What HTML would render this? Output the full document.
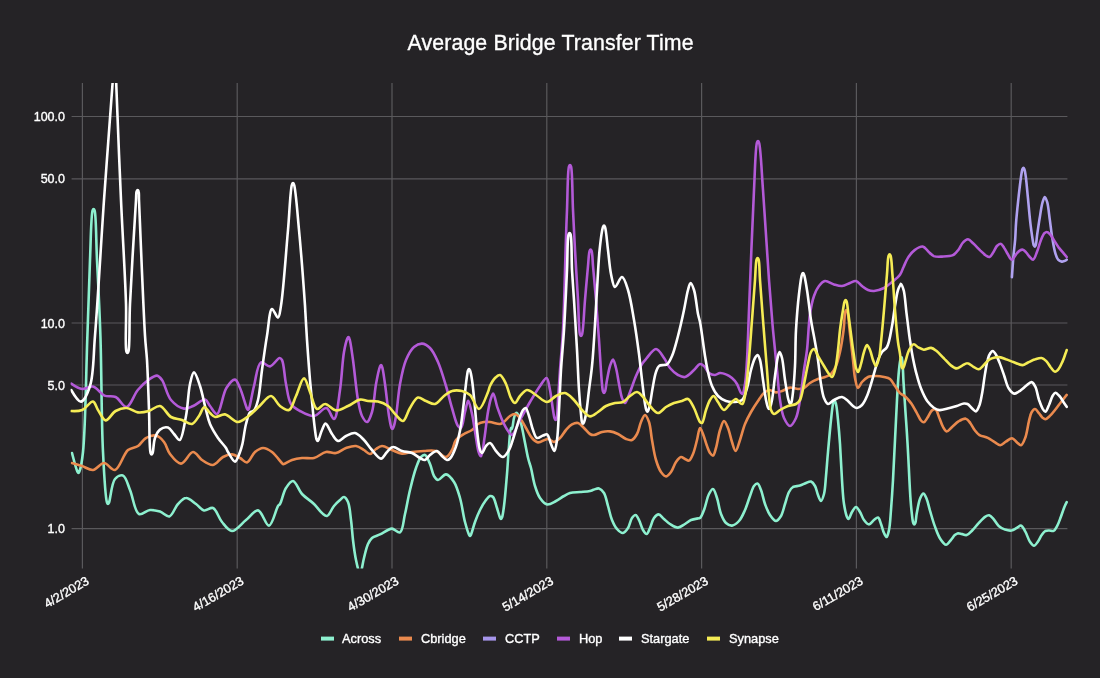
<!DOCTYPE html><html><head><meta charset="utf-8"><title>Average Bridge Transfer Time</title>
<style>html,body{margin:0;padding:0;background:#252326;}body{width:1100px;height:678px;overflow:hidden;font-family:"Liberation Sans",Arial,sans-serif;}svg{display:block}text{font-family:"Liberation Sans",Arial,sans-serif;fill:#fff;stroke:#fff;stroke-width:0.35px}</style></head><body>
<svg width="1100" height="678" viewBox="0 0 1100 678">
<rect width="1100" height="678" fill="#252326"/>
<defs><clipPath id="c"><rect x="70.6" y="83" width="997.8000000000001" height="485.5"/></clipPath></defs>
<g stroke="#5a595c" stroke-width="1.2" fill="none">
<line x1="82.4" y1="83" x2="82.4" y2="568.5"/>
<line x1="237.2" y1="83" x2="237.2" y2="568.5"/>
<line x1="392.0" y1="83" x2="392.0" y2="568.5"/>
<line x1="546.8" y1="83" x2="546.8" y2="568.5"/>
<line x1="701.6" y1="83" x2="701.6" y2="568.5"/>
<line x1="856.4" y1="83" x2="856.4" y2="568.5"/>
<line x1="1011.2" y1="83" x2="1011.2" y2="568.5"/>
<line x1="71.6" y1="116.5" x2="1067.4" y2="116.5"/>
<line x1="71.6" y1="178.8" x2="1067.4" y2="178.8"/>
<line x1="71.6" y1="323" x2="1067.4" y2="323"/>
<line x1="71.6" y1="385" x2="1067.4" y2="385"/>
<line x1="71.6" y1="528.6" x2="1067.4" y2="528.6"/>
</g>
<text x="550.5" y="50" font-size="21.3" textLength="286" text-anchor="middle">Average Bridge Transfer Time</text>
<text x="65" y="121.0" font-size="12.5" text-anchor="end">100.0</text>
<text x="65" y="183.3" font-size="12.5" text-anchor="end">50.0</text>
<text x="65" y="327.5" font-size="12.5" text-anchor="end">10.0</text>
<text x="65" y="389.5" font-size="12.5" text-anchor="end">5.0</text>
<text x="65" y="533.1" font-size="12.5" text-anchor="end">1.0</text>
<text font-size="12.7" text-anchor="end" transform="translate(89.9,583.5) rotate(-30)">4/2/2023</text>
<text font-size="12.7" text-anchor="end" transform="translate(244.7,583.5) rotate(-30)">4/16/2023</text>
<text font-size="12.7" text-anchor="end" transform="translate(399.5,583.5) rotate(-30)">4/30/2023</text>
<text font-size="12.7" text-anchor="end" transform="translate(554.3,583.5) rotate(-30)">5/14/2023</text>
<text font-size="12.7" text-anchor="end" transform="translate(709.1,583.5) rotate(-30)">5/28/2023</text>
<text font-size="12.7" text-anchor="end" transform="translate(863.9,583.5) rotate(-30)">6/11/2023</text>
<text font-size="12.7" text-anchor="end" transform="translate(1018.7,583.5) rotate(-30)">6/25/2023</text>
<g clip-path="url(#c)" fill="none" stroke-width="2.6" stroke-linejoin="round" stroke-linecap="round">
<path stroke="#8df0cf" d="M72.0,453.0Q76.1,469.0 77.4,471.6C77.8,472.4 78.1,473.0 78.4,473.0C78.7,473.0 79.1,472.4 79.4,471.6C80.5,468.9 82.0,461.3 83.0,452.0C85.5,429.5 86.1,370.2 87.4,335.6C88.4,307.7 89.0,282.6 90.0,260.0C90.8,241.7 91.0,215.1 92.6,210.4C92.9,209.5 93.3,209.0 93.6,209.0C93.9,209.0 94.3,209.5 94.6,210.4C96.2,215.1 96.1,241.7 97.0,260.0C98.1,282.6 99.5,307.7 100.4,335.6C101.6,370.2 101.4,421.2 103.0,452.0C104.0,472.3 105.3,497.8 107.0,502.6C107.3,503.5 107.7,504.0 108.0,504.0C108.3,504.0 108.6,503.4 109.0,502.6C110.4,499.6 111.5,483.1 115.0,479.0C117.1,476.5 120.7,474.8 123.0,475.6C126.1,476.8 127.7,484.5 130.0,490.0C133.0,496.9 134.6,512.0 139.0,514.0C142.0,515.4 146.4,510.3 150.0,510.0C153.4,509.7 156.8,510.6 160.0,511.6C163.3,512.7 166.6,517.1 169.4,516.4C172.7,515.6 174.9,507.2 178.0,504.0C180.5,501.4 183.1,498.1 186.0,498.0C189.1,497.8 192.9,501.9 196.0,504.0C198.9,506.0 201.1,509.8 204.0,510.4C206.8,511.0 210.3,507.0 213.0,508.0C216.6,509.4 218.6,518.0 222.0,522.0C225.0,525.6 228.3,530.9 232.0,531.0C236.2,531.1 241.5,523.6 246.0,520.0C250.2,516.7 254.3,509.9 258.0,510.4C262.1,511.0 265.8,525.9 269.0,525.6C272.5,525.3 275.9,509.1 278.0,506.0C278.8,504.9 279.3,505.1 280.0,504.0C281.7,501.3 283.4,492.0 286.0,488.0C288.0,484.9 290.6,480.8 293.0,481.0C296.0,481.3 298.5,490.2 302.0,494.0C305.5,497.8 310.5,500.6 314.0,504.0C317.1,507.0 319.5,510.9 322.0,513.0C323.7,514.4 325.4,516.4 327.0,516.0C329.4,515.5 331.6,508.8 334.0,506.0C336.0,503.6 338.1,501.6 340.0,500.0C341.4,498.8 342.7,496.8 344.0,497.0C345.4,497.2 346.9,499.6 348.0,502.0C349.8,506.0 350.2,513.8 351.0,520.0C351.9,526.5 352.2,533.3 353.0,540.0C353.8,546.7 354.8,554.3 356.0,560.0C356.9,564.4 358.1,569.6 359.0,571.6C359.3,572.3 359.7,573.0 360.0,573.0C360.3,573.0 360.7,572.4 361.0,571.6C362.0,569.4 362.8,562.5 364.0,558.0C365.2,553.3 366.3,547.6 368.0,544.0C369.2,541.5 370.2,539.6 372.0,538.0C374.0,536.3 377.4,535.7 380.0,534.4C382.7,533.1 385.8,531.0 388.0,530.0C389.5,529.3 390.5,528.5 392.0,528.6C394.2,528.7 398.0,533.3 400.0,532.4C403.0,531.0 403.4,520.6 405.0,514.0C406.8,506.6 408.1,497.8 410.0,490.0C411.8,482.5 413.8,474.0 416.0,468.0C417.6,463.6 419.0,459.1 421.0,457.0C422.2,455.7 423.8,454.6 425.0,455.0C426.9,455.6 428.6,460.7 430.0,464.0C431.6,467.6 432.3,473.2 434.0,476.0C435.2,477.9 436.4,479.9 438.0,480.0C440.1,480.2 443.4,474.2 446.0,474.4C448.8,474.6 451.8,478.7 454.0,482.0C456.7,486.1 458.3,492.1 460.0,498.0C462.1,505.1 463.2,515.3 465.0,522.0C466.3,526.9 468.0,532.5 469.0,534.6C469.4,535.3 469.7,536.0 470.0,536.0C470.3,536.0 470.6,535.3 471.0,534.6C472.0,532.5 473.5,526.1 475.0,522.0C476.5,517.9 478.1,513.8 480.0,510.0C481.8,506.4 484.1,502.5 486.0,500.0C487.4,498.3 488.7,496.3 490.0,496.0C491.0,495.8 492.1,496.1 493.0,497.0C494.7,498.7 495.8,504.4 497.0,508.0C498.1,511.3 499.1,515.9 500.0,517.6C500.4,518.3 500.7,519.0 501.0,519.0C501.3,519.0 501.7,518.3 502.0,517.6C502.8,515.6 503.4,510.8 504.0,506.0C505.1,498.0 506.1,484.3 507.0,474.0C507.8,464.4 508.2,454.3 509.0,446.0C509.6,439.3 510.0,428.4 511.0,428.0C511.3,427.9 511.6,429.1 511.9,429.0C512.8,428.7 513.2,420.1 514.2,417.2C514.8,415.3 515.5,412.8 516.4,412.8C517.2,412.7 518.5,415.3 519.3,417.2C520.6,420.1 521.3,424.8 522.3,429.0C523.3,433.6 524.2,438.8 525.2,443.7C526.2,448.7 527.1,454.1 528.2,458.5C529.0,462.0 530.0,464.3 531.0,468.0C532.3,473.0 533.3,480.7 535.0,486.0C536.4,490.5 537.8,494.8 540.0,498.0C541.9,500.7 544.3,503.9 547.0,504.4C549.7,504.9 553.2,502.4 556.0,501.0C558.8,499.6 561.5,497.4 564.0,496.0C566.1,494.8 567.7,493.7 570.0,493.0C572.8,492.2 576.7,492.3 580.0,492.0C583.3,491.7 587.4,491.6 590.0,491.0C591.7,490.6 592.6,490.0 594.0,489.6C595.6,489.1 597.4,488.0 599.0,488.4C600.8,488.9 602.6,490.8 604.0,493.0C605.9,496.1 606.7,501.6 608.0,506.0C609.4,510.6 610.3,515.9 612.0,520.0C613.4,523.4 614.9,526.8 617.0,529.0C618.7,530.9 621.2,533.2 623.0,533.0C624.8,532.8 626.6,530.1 628.0,528.0C629.7,525.4 630.4,520.2 632.0,518.0C633.1,516.5 634.5,514.8 635.6,515.0C636.9,515.2 637.9,518.0 639.0,520.0C640.4,522.7 641.5,527.5 643.0,530.0C644.1,531.8 645.5,534.1 646.6,534.0C647.9,533.9 648.9,530.3 650.0,528.0C651.4,525.1 652.2,520.4 654.0,518.0C655.3,516.3 657.0,514.4 658.6,514.4C660.3,514.4 662.1,517.4 664.0,519.0C665.9,520.6 667.7,522.6 670.0,524.0C672.4,525.5 675.4,527.7 678.0,527.6C680.4,527.5 682.8,525.3 685.0,524.0C687.1,522.8 688.8,520.9 691.0,520.0C693.2,519.1 696.4,518.7 698.0,518.4C698.9,518.2 699.3,518.5 700.0,518.0C701.4,516.9 702.7,513.2 704.0,510.0C705.8,505.6 707.0,497.7 709.0,494.0C710.2,491.7 711.8,488.8 713.0,489.0C714.5,489.2 715.8,494.5 717.0,498.0C718.6,502.5 719.2,509.5 721.0,514.0C722.4,517.5 723.9,521.1 726.0,523.0C727.7,524.5 730.0,525.8 732.0,525.6C734.3,525.4 737.0,523.2 739.0,521.0C741.5,518.3 743.2,514.0 745.0,510.0C746.9,505.7 748.4,500.3 750.0,496.0C751.4,492.4 752.4,488.1 754.0,486.0C755.0,484.7 756.4,483.4 757.4,483.6C758.8,483.9 759.9,487.4 761.0,490.0C762.5,493.7 763.4,499.7 765.0,504.0C766.5,507.9 767.9,512.0 770.0,515.0C771.7,517.5 774.1,521.0 776.0,521.0C777.7,521.0 779.6,518.2 781.0,516.0C782.8,513.0 783.7,508.0 785.0,504.0C786.3,500.0 787.4,495.0 789.0,492.0C790.2,489.8 791.2,488.1 793.0,487.0C794.9,485.9 797.8,486.3 800.0,485.6C802.1,484.9 804.1,483.7 806.0,483.0C807.7,482.4 809.5,481.2 811.0,481.6C812.6,482.1 813.9,484.1 815.0,486.0C816.4,488.4 816.9,492.3 818.0,495.0C818.9,497.2 820.0,501.0 821.0,501.0C822.0,501.0 823.2,496.9 824.0,494.0C825.2,489.5 825.4,482.4 826.0,476.0C826.7,468.6 827.2,460.6 828.0,452.0C828.9,442.1 830.0,428.8 831.0,420.0C831.7,413.7 832.2,407.5 833.0,404.0C833.4,402.2 833.9,400.0 834.4,400.0C834.9,400.0 835.5,402.2 836.0,404.0C836.9,407.5 837.4,414.1 838.0,420.0C838.7,427.2 839.4,435.2 840.0,444.0C840.7,454.8 841.3,469.2 842.0,480.0C842.6,488.8 842.9,497.2 844.0,504.0C844.8,509.0 845.9,514.6 847.0,517.0C847.5,518.0 847.9,519.0 848.4,519.0C849.4,518.9 850.7,514.1 852.0,512.0C853.2,510.1 854.7,507.0 856.0,507.0C857.3,507.0 858.8,510.1 860.0,512.0C861.5,514.3 862.3,517.9 864.0,520.0C865.4,521.9 867.3,524.4 869.0,524.4C870.7,524.4 872.4,521.2 874.0,520.0C875.4,519.0 876.9,517.3 878.0,517.6C879.4,518.0 880.1,521.7 881.0,524.0C882.1,526.7 882.9,530.7 884.0,533.0C884.8,534.7 885.8,537.1 886.6,537.0C887.6,536.9 888.3,533.0 889.0,530.0C890.1,525.1 890.4,517.3 891.0,510.0C891.7,501.0 892.4,490.7 893.0,480.0C893.7,467.6 894.3,453.3 895.0,440.0C895.7,426.7 896.3,412.4 897.0,400.0C897.6,389.3 898.2,377.5 899.0,370.0C899.5,365.4 899.9,360.9 900.6,359.0C900.8,358.3 901.1,357.8 901.4,357.6C901.5,357.5 901.7,357.3 901.8,357.4C902.9,358.1 903.0,375.7 903.7,384.8C904.3,394.0 904.9,403.1 905.5,412.3C906.1,421.4 906.8,430.5 907.3,439.7C907.9,448.9 908.3,457.8 908.8,467.4C909.3,477.9 909.9,491.0 910.6,500.3C911.1,507.3 911.9,514.6 912.4,518.6C912.7,520.6 912.8,522.0 913.3,523.1C913.5,523.7 913.9,524.5 914.3,524.5C914.6,524.5 915.0,523.8 915.3,523.1C916.0,521.3 916.1,516.7 916.8,513.1C917.7,508.7 918.6,502.0 920.1,498.5C921.0,496.3 922.3,493.6 923.4,493.6C924.5,493.6 925.6,496.4 926.5,498.5C927.9,501.7 928.8,506.9 930.2,511.3C931.6,516.0 933.0,521.3 934.7,525.9C936.4,530.4 938.0,535.4 940.2,538.7C941.9,541.3 944.2,544.7 946.1,544.8C947.8,544.8 949.7,541.3 951.2,539.6C952.6,538.1 953.5,536.2 954.8,535.1C955.9,534.2 956.9,533.4 958.1,533.2C959.4,533.1 960.8,533.9 962.2,534.1C963.6,534.5 965.2,535.4 966.7,535.1C968.6,534.6 970.4,532.3 972.2,530.5C974.3,528.4 976.4,525.5 978.6,523.2C980.7,520.9 983.0,518.1 985.0,516.8C986.4,515.9 987.9,515.1 989.2,515.3C990.6,515.6 991.9,517.2 993.2,518.6C995.0,520.5 996.6,524.1 998.7,525.9C1000.6,527.6 1002.9,528.8 1005.1,529.6C1007.2,530.3 1009.5,530.8 1011.5,530.5C1013.5,530.2 1015.3,528.6 1017.0,527.8C1018.5,527.0 1019.8,525.3 1021.0,525.6C1022.6,525.9 1023.9,529.1 1025.2,531.4C1026.9,534.2 1028.1,538.9 1029.8,541.5C1031.1,543.3 1032.6,545.7 1034.0,545.7C1035.4,545.7 1036.8,543.1 1038.0,541.5C1039.4,539.6 1040.4,536.9 1041.7,535.1C1042.8,533.5 1044.0,531.8 1045.3,531.0C1046.5,530.4 1047.7,530.5 1049.0,530.5C1050.4,530.4 1052.3,531.5 1053.6,530.9C1055.1,530.2 1056.1,527.9 1057.2,525.9C1058.6,523.4 1059.7,519.9 1060.9,516.8C1062.1,513.5 1063.4,509.4 1064.5,506.7Q1065.3,504.9 1066.7,502.2"/>
<path stroke="#ea8a4e" d="M72.0,463.0Q78.6,464.9 82.0,466.0C85.6,467.2 89.4,470.4 93.0,470.0C96.8,469.6 100.3,463.0 104.0,463.0C107.7,463.0 111.5,470.8 115.0,470.0C119.7,469.0 123.3,453.9 128.0,450.0C131.2,447.4 135.0,448.0 138.0,446.0C141.0,444.0 142.9,439.7 146.0,438.0C148.9,436.3 153.0,434.9 156.0,435.6C159.0,436.3 161.8,439.2 164.0,442.0C166.6,445.2 167.3,450.5 170.0,454.0C172.9,457.7 177.3,463.7 181.0,463.6C185.0,463.5 189.3,452.1 193.0,452.0C196.2,451.9 198.7,457.8 202.0,460.0C205.3,462.2 209.5,465.4 213.0,465.0C216.6,464.6 219.6,458.8 223.0,457.0C225.9,455.5 229.1,454.2 232.0,454.4C234.8,454.6 237.5,456.6 240.0,458.0C242.5,459.3 244.8,462.8 247.0,462.4C249.8,461.9 252.0,454.5 255.0,452.0C257.5,450.0 260.2,448.1 263.0,448.0C265.9,447.9 269.1,449.9 272.0,452.0C275.8,454.7 281.2,463.2 283.0,464.0C283.4,464.2 283.5,464.1 284.0,464.0C285.4,463.7 289.1,461.0 292.0,460.0C295.1,458.9 298.5,458.3 302.0,458.0C305.8,457.6 310.1,458.9 314.0,458.0C318.1,457.0 322.1,452.7 326.0,452.0C329.4,451.4 332.8,453.6 336.0,453.0C339.4,452.4 342.6,449.2 346.0,448.0C349.3,446.9 352.9,445.6 356.0,446.0C358.9,446.4 361.6,448.6 364.0,450.0C366.2,451.3 368.0,454.1 370.0,454.0C372.0,453.9 373.9,450.4 376.0,449.0C377.9,447.7 379.7,446.1 382.0,446.0C384.9,445.9 388.7,448.7 392.0,450.0C395.3,451.3 398.6,453.3 402.0,453.6C405.3,453.9 408.5,452.4 412.0,452.0C415.8,451.5 420.0,451.2 424.0,451.0C428.0,450.8 432.3,450.0 436.0,451.0C439.6,452.0 443.2,457.4 446.0,457.0C448.5,456.6 450.4,452.7 452.0,450.0C453.8,447.1 453.9,442.7 456.0,440.0C458.0,437.4 461.3,435.7 464.0,434.0C466.6,432.4 469.6,431.7 472.0,430.0C474.3,428.3 475.8,425.3 478.0,424.0C479.9,422.8 482.0,422.3 484.0,422.0C486.0,421.7 487.8,421.8 490.0,422.0C492.9,422.3 497.5,424.3 500.0,424.0C501.7,423.8 502.6,423.0 504.0,422.0C505.9,420.6 507.9,417.4 510.0,416.0C511.6,414.9 513.4,413.8 515.0,414.0C516.7,414.3 518.4,416.2 520.0,418.0C522.1,420.5 524.0,424.7 526.0,428.0C528.0,431.3 529.7,435.5 532.0,438.0C533.8,440.0 535.6,442.0 538.0,442.4C540.8,442.8 545.1,438.8 548.0,439.0C550.3,439.2 552.0,442.1 554.0,442.0C556.0,441.9 558.1,439.8 560.0,438.0C562.2,435.9 563.9,432.3 566.0,430.0C567.9,427.9 569.8,425.6 572.0,424.4C573.9,423.4 576.1,422.6 578.0,423.0C580.1,423.5 582.0,426.2 584.0,428.0C586.0,429.9 588.1,432.9 590.0,434.0C591.4,434.8 592.5,435.1 594.0,435.0C596.2,434.9 599.3,432.6 602.0,432.0C604.6,431.4 607.4,431.1 610.0,431.4C612.7,431.7 615.4,432.8 618.0,434.0C620.7,435.3 623.4,438.0 626.0,439.0C628.1,439.8 630.2,440.7 632.0,440.0C634.0,439.3 635.6,436.5 637.0,434.0C638.8,430.8 639.5,425.4 641.0,422.0C642.2,419.3 643.7,415.0 645.0,415.0C646.3,415.0 647.9,419.0 649.0,422.0C650.6,426.5 650.9,433.9 652.0,440.0C653.2,446.5 654.2,454.3 656.0,460.0C657.4,464.6 658.9,469.1 661.0,472.0C662.5,474.0 664.3,476.4 666.0,476.4C667.7,476.4 669.5,473.9 671.0,472.0C672.9,469.5 674.1,464.6 676.0,462.0C677.5,459.9 679.3,457.3 681.0,457.0C682.3,456.8 683.7,458.4 685.0,459.0C686.3,459.6 687.8,461.0 689.0,460.6C690.6,460.1 691.8,456.7 693.0,454.0C694.6,450.3 695.8,444.5 697.0,440.0C698.1,435.9 698.8,428.1 700.0,428.0C700.9,427.9 702.0,431.6 703.0,434.0C704.4,437.3 705.7,442.6 707.0,446.0C708.0,448.7 708.8,451.3 710.0,453.0C710.9,454.2 712.1,455.8 713.0,455.6C714.3,455.3 715.0,451.1 716.0,448.0C717.4,443.3 718.4,434.9 720.0,430.0C721.2,426.4 722.6,421.1 724.0,421.0C725.3,420.9 726.8,425.2 728.0,428.0C729.6,431.8 730.6,437.9 732.0,442.0C733.1,445.4 734.3,451.0 735.6,451.0C737.0,451.0 738.6,444.0 740.0,440.0C741.7,435.2 743.0,428.9 745.0,424.0C746.8,419.6 748.8,415.9 751.0,412.0C753.2,408.2 755.7,404.3 758.0,401.0C760.0,398.1 761.9,394.9 764.0,393.0C765.6,391.6 767.1,390.2 769.0,390.0C771.1,389.8 773.7,392.3 776.0,392.4C778.1,392.5 779.9,391.7 782.0,391.0C784.5,390.2 787.3,387.9 790.0,387.6C792.6,387.3 795.5,389.0 798.0,389.0C800.1,389.0 802.1,388.9 804.0,388.0C806.1,387.0 807.8,384.5 810.0,383.0C812.4,381.4 815.4,380.0 818.0,379.0C820.4,378.1 822.8,377.9 825.0,377.0C827.1,376.2 829.3,375.6 831.0,374.0C833.0,372.1 834.6,369.2 836.0,366.0C837.7,362.1 838.8,357.2 840.0,352.0C841.4,345.5 842.7,337.0 843.6,330.0C844.4,323.6 844.4,314.0 845.4,311.4C845.7,310.6 846.1,310.0 846.4,310.0C846.7,310.0 847.1,310.6 847.4,311.4C848.4,314.0 848.8,323.1 849.6,330.0C850.6,338.8 852.0,351.3 853.0,360.0C853.8,366.8 854.0,372.9 855.0,378.0C855.8,381.9 856.7,387.8 858.0,388.0C859.1,388.2 860.4,383.8 862.0,382.0C863.7,380.1 865.7,378.0 868.0,377.0C870.3,376.0 873.3,376.0 876.0,376.0C878.7,376.0 881.5,376.4 884.0,377.0C886.2,377.5 888.3,377.7 890.0,379.0C892.0,380.5 893.3,383.7 895.0,386.0C896.7,388.3 898.1,391.2 900.0,393.1C901.7,394.7 903.8,395.2 905.5,396.7C907.4,398.5 909.2,400.7 911.0,403.1C912.9,405.8 914.7,409.3 916.5,412.3C918.1,415.1 919.5,418.8 921.0,420.5C921.9,421.5 922.9,422.5 923.8,422.3C925.0,422.1 926.2,419.5 927.4,417.8C928.9,415.6 930.3,411.7 932.0,410.4C933.1,409.6 934.6,409.0 935.6,409.5C937.3,410.3 938.1,414.9 939.3,417.8C940.6,420.7 941.5,424.4 943.0,426.9C944.1,428.8 945.2,431.3 946.6,431.5C948.2,431.6 950.2,428.5 952.1,426.9C954.2,425.2 956.2,422.8 958.5,421.4C960.7,420.1 963.8,418.2 965.8,418.7C967.7,419.1 969.0,421.4 970.4,423.2C972.0,425.3 973.3,428.5 975.0,430.5C976.4,432.3 977.6,433.9 979.5,435.1C981.7,436.5 985.2,436.6 987.8,437.9C990.3,439.1 992.8,441.1 995.1,442.4C996.9,443.5 998.4,445.2 1000.2,445.2C1002.1,445.1 1004.1,442.7 1006.0,441.5C1008.0,440.4 1010.0,438.1 1011.9,438.2C1013.7,438.4 1015.4,441.2 1017.0,442.4C1018.4,443.5 1019.8,445.5 1021.0,445.2C1022.6,444.8 1024.1,440.9 1025.2,437.9C1026.9,433.6 1027.7,426.1 1028.9,421.4C1029.8,417.9 1030.3,414.4 1031.6,412.3C1032.5,410.7 1033.8,409.0 1034.9,409.0C1036.2,409.0 1037.7,411.7 1038.9,413.2C1040.2,414.6 1041.4,416.7 1042.6,417.8C1043.5,418.5 1044.3,419.3 1045.3,419.2C1046.7,419.1 1048.4,417.3 1049.9,415.9C1051.8,414.2 1053.6,411.8 1055.4,409.5C1057.3,407.2 1059.0,404.6 1060.9,402.2Q1062.8,399.8 1066.7,394.9"/>
<path stroke="#b0a2f0" d="M1011.9,277.2Q1012.8,263.9 1013.3,257.4C1013.9,251.2 1014.7,245.1 1015.2,239.1C1015.6,233.4 1015.6,228.6 1016.1,222.3C1016.7,214.2 1017.9,203.5 1018.8,194.8C1019.7,187.1 1020.8,177.2 1021.6,172.9C1021.9,171.1 1022.0,170.1 1022.4,169.2C1022.7,168.6 1023.1,167.8 1023.4,167.8C1023.7,167.8 1024.1,168.5 1024.4,169.2C1025.0,170.6 1025.3,173.4 1025.8,176.6C1026.5,181.9 1027.2,190.8 1028.0,198.5C1028.8,207.1 1029.7,218.0 1030.7,225.9C1031.5,232.1 1032.5,239.2 1033.1,242.4C1033.3,243.7 1033.4,244.4 1033.7,245.2C1034.0,245.8 1034.4,246.6 1034.7,246.6C1035.1,246.6 1035.4,245.9 1035.7,245.2C1036.4,243.4 1036.6,238.9 1037.1,235.1C1037.9,229.9 1038.9,222.5 1039.9,216.8C1040.7,211.6 1041.5,205.7 1042.6,202.2C1043.3,200.0 1044.0,197.0 1044.8,197.0C1045.6,197.0 1046.5,199.9 1047.2,202.2C1048.4,206.3 1049.0,214.2 1049.9,220.4C1050.8,227.0 1051.6,234.6 1052.7,240.5C1053.5,245.3 1054.3,249.9 1055.4,253.3C1056.2,255.9 1056.8,258.4 1058.1,259.7C1059.1,260.8 1060.5,261.4 1061.8,261.6C1063.0,261.7 1064.6,261.1 1065.4,260.7Q1066.0,260.4 1066.7,259.7"/>
<path stroke="#b45ad8" d="M71.2,383.6Q78.5,388.6 82.2,389.0C85.7,389.4 89.5,385.8 93.0,386.6C97.0,387.5 100.4,393.9 104.4,395.6C108.0,397.1 112.1,395.4 115.6,397.0C119.6,398.8 123.2,407.4 126.6,407.0C130.6,406.5 133.8,394.8 137.8,390.0C141.3,385.9 145.2,382.1 148.8,379.6C151.6,377.7 154.7,375.3 157.0,375.6C159.0,375.9 160.3,377.7 162.0,380.0C165.0,384.1 166.8,395.1 171.0,400.0C174.5,404.1 179.9,408.0 184.0,408.6C187.2,409.1 190.0,407.3 193.2,406.0C197.0,404.5 202.1,399.0 205.0,399.6C207.3,400.1 208.2,403.8 210.0,406.0C212.1,408.5 214.8,414.4 217.0,414.0C220.5,413.3 222.5,394.0 226.4,388.0C228.9,384.0 232.7,379.3 235.0,379.6C237.1,379.9 238.4,384.5 240.0,388.0C242.4,393.3 245.6,405.8 247.0,408.6C247.4,409.4 247.7,410.0 248.0,410.0C248.3,410.0 248.6,409.4 249.0,408.6C250.3,405.6 252.0,393.6 254.0,386.0C256.0,378.2 257.2,364.2 261.0,362.4C263.4,361.3 267.1,366.8 270.0,366.4C273.3,365.9 277.5,358.0 279.6,358.0C280.7,358.0 281.3,358.8 282.0,360.0C284.0,363.5 284.4,376.4 286.0,384.0C287.5,391.0 288.0,399.4 291.0,404.0C293.2,407.5 296.5,409.1 300.0,411.0C304.0,413.2 309.6,416.5 314.0,416.0C318.4,415.5 323.0,407.3 326.4,408.0C329.6,408.6 331.9,419.4 334.0,419.0C337.1,418.4 338.4,400.4 340.0,390.0C341.8,378.2 342.3,361.4 344.0,352.0C345.0,346.3 346.4,340.6 347.4,338.4C347.7,337.6 348.1,337.0 348.4,337.0C348.7,337.0 349.1,337.6 349.4,338.4C350.6,341.3 351.8,351.7 353.0,360.0C354.6,371.3 356.1,389.7 358.0,400.0C359.2,406.6 360.0,412.1 362.0,416.0C363.4,418.7 365.5,422.2 367.0,422.0C368.8,421.8 370.7,416.3 372.0,412.0C374.1,405.1 374.5,392.2 376.0,384.0C377.2,377.4 378.9,368.9 380.0,366.4C380.4,365.6 380.7,365.0 381.0,365.0C381.3,365.0 381.7,365.6 382.0,366.4C383.1,368.9 384.0,377.3 385.0,384.0C386.3,393.1 387.7,408.0 389.0,416.0C389.8,420.8 390.5,425.6 391.4,427.6C391.7,428.3 392.1,429.0 392.4,429.0C392.7,429.0 393.1,428.3 393.4,427.6C394.3,425.6 395.2,420.9 396.0,416.0C397.4,408.0 398.2,393.8 400.0,384.0C401.6,375.4 403.2,366.6 406.0,360.0C408.2,354.8 410.8,349.7 414.0,347.0C416.4,344.9 419.4,343.5 422.0,343.6C424.7,343.7 427.6,345.7 430.0,348.0C433.2,351.1 435.6,356.6 438.0,362.0C441.0,368.8 443.6,378.1 446.0,386.0C448.3,393.5 449.9,401.1 452.0,408.0C453.9,414.3 455.8,423.1 458.0,426.0C459.0,427.3 460.1,428.3 461.0,428.0C462.9,427.3 463.7,416.8 465.0,412.0C466.0,408.0 467.2,401.6 468.0,401.0C468.2,400.9 468.3,400.9 468.4,401.0C469.3,401.6 471.0,409.2 472.1,414.2C473.5,420.7 474.6,429.6 475.8,436.4C476.8,442.2 477.5,449.2 478.8,452.6C479.4,454.3 480.3,456.4 481.0,456.3C482.5,456.0 483.6,443.2 484.7,436.4C485.8,429.2 486.5,420.9 487.6,414.2C488.5,408.8 489.4,403.3 490.6,399.5C491.4,397.0 492.3,393.5 493.2,393.6C494.5,393.7 495.8,402.6 497.2,406.9C498.6,410.9 500.0,414.9 501.6,418.7C503.2,422.3 504.9,426.1 506.8,429.0C508.4,431.4 510.2,435.1 511.9,434.9C514.5,434.6 517.2,425.2 520.0,420.0C523.1,414.3 526.6,407.8 530.0,402.0C533.3,396.5 536.9,390.3 540.0,386.0C542.3,382.8 545.0,377.7 546.6,378.0C548.4,378.4 549.0,385.5 550.0,390.0C551.2,395.8 552.1,404.7 553.0,410.0C553.6,413.5 553.9,417.0 554.6,418.6C554.9,419.3 555.3,420.0 555.6,420.0C555.9,420.0 556.3,419.4 556.6,418.6C557.6,416.0 557.5,406.9 558.0,400.0C558.6,391.2 559.2,380.7 560.0,370.0C560.9,357.6 562.2,345.6 563.0,330.0C564.2,307.9 564.9,272.1 565.6,250.0C566.1,234.4 566.4,223.6 567.0,210.0C567.6,195.8 567.5,170.8 569.0,166.4C569.3,165.5 569.7,165.0 570.0,165.0C570.3,165.0 570.7,165.5 571.0,166.4C572.5,170.8 572.3,195.8 573.0,210.0C573.7,223.6 574.2,235.9 575.0,250.0C575.9,265.7 577.1,284.9 578.0,300.0C578.7,312.6 578.7,330.8 580.0,334.6C580.3,335.4 580.7,336.0 581.0,336.0C581.3,336.0 581.7,335.4 582.0,334.6C583.4,330.8 584.0,311.5 585.0,300.0C586.0,288.6 587.1,275.0 588.0,266.0C588.6,260.0 588.7,253.3 589.6,251.0C589.9,250.2 590.3,249.6 590.6,249.6C590.9,249.6 591.3,250.2 591.6,251.0C592.5,253.3 592.5,260.0 593.0,266.0C593.8,275.0 595.0,288.2 596.0,300.0C597.0,312.8 598.0,326.3 599.0,340.0C600.0,354.3 601.1,375.4 602.0,384.0C602.4,387.6 602.4,390.1 603.0,391.6C603.3,392.3 603.7,393.0 604.0,393.0C604.3,393.0 604.7,392.3 605.0,391.6C605.8,389.6 606.2,384.0 607.0,380.0C607.9,375.5 608.8,369.7 610.0,366.0C610.9,363.4 612.1,359.6 613.0,359.6C614.1,359.7 615.1,364.7 616.0,368.0C617.2,372.4 618.0,378.9 619.0,384.0C620.0,388.8 620.7,394.6 622.0,398.0C622.9,400.2 623.9,403.1 625.0,403.0C626.5,402.9 628.3,396.0 630.0,392.0C632.0,387.2 633.9,380.9 636.0,376.0C637.9,371.7 640.0,367.1 642.0,364.0C643.4,361.9 644.3,360.9 646.0,359.0C648.5,356.2 652.9,348.9 656.0,349.0C658.9,349.1 661.7,354.8 664.0,358.0C666.3,361.1 667.6,365.1 670.0,368.0C672.3,370.7 675.2,373.5 678.0,375.0C680.3,376.2 682.6,377.5 685.0,377.0C688.0,376.4 691.4,372.3 694.0,370.0C696.3,368.0 698.1,364.3 700.0,364.0C701.4,363.8 702.7,364.9 704.0,366.0C705.8,367.5 707.0,371.5 709.0,373.0C710.7,374.3 713.1,375.1 715.0,375.0C716.8,374.9 718.2,373.1 720.0,373.0C721.9,372.9 724.1,373.6 726.0,374.4C728.1,375.2 730.2,376.5 732.0,378.0C733.9,379.6 735.6,381.7 737.0,384.0C738.6,386.6 739.8,391.6 741.0,393.0C741.5,393.6 742.0,394.2 742.4,394.0C743.5,393.6 744.3,388.1 745.0,384.0C746.1,377.8 746.4,369.5 747.0,360.0C747.8,346.4 748.2,330.3 749.0,310.0C750.3,278.6 752.4,220.9 754.0,190.0C755.0,170.5 755.4,147.0 757.0,142.4C757.3,141.5 757.7,141.0 758.0,141.0C758.3,141.0 758.7,141.5 759.0,142.4C760.7,147.0 761.6,171.6 763.0,190.0C764.9,215.3 767.1,254.4 769.0,280.0C770.4,299.1 771.6,314.3 773.0,330.0C774.3,344.1 775.8,357.6 777.0,370.0C778.1,380.7 778.6,391.3 780.0,400.0C781.1,406.8 781.9,413.4 784.0,418.0C785.6,421.4 788.0,426.0 790.0,426.0C792.0,426.0 794.4,421.4 796.0,418.0C798.1,413.4 798.8,406.8 800.0,400.0C801.5,391.3 802.7,379.0 804.0,370.0C805.0,362.7 806.1,357.7 807.0,350.0C808.2,339.8 808.5,323.9 810.0,314.0C811.1,306.9 812.2,301.0 814.0,296.0C815.4,292.1 816.9,288.6 819.0,286.0C820.7,283.8 822.7,281.4 825.0,281.0C827.6,280.6 831.1,283.6 834.0,284.4C836.7,285.2 839.4,286.2 842.0,286.0C844.7,285.8 847.5,283.9 850.0,283.0C852.1,282.2 854.1,280.6 856.0,281.0C858.1,281.4 860.0,284.5 862.0,286.0C864.0,287.5 865.9,289.2 868.0,290.0C869.9,290.8 871.8,291.1 874.0,291.0C876.9,290.8 881.0,289.5 884.0,288.0C887.0,286.5 889.4,284.2 892.0,282.0C894.7,279.8 898.0,277.5 900.0,274.8C901.8,272.3 902.3,269.4 903.7,266.6C905.1,263.6 906.4,260.2 908.2,257.4C910.0,254.7 912.1,251.9 914.6,250.1C917.0,248.4 920.5,246.2 922.9,246.6C925.0,246.9 926.5,249.9 928.3,251.5C930.1,253.1 931.6,255.2 933.8,256.1C936.2,257.0 939.1,256.7 942.0,256.6C945.4,256.5 950.2,256.6 953.0,255.2C955.4,254.0 956.9,251.8 958.5,249.7C960.2,247.5 961.3,244.2 963.1,242.4C964.5,240.9 966.4,239.2 968.0,239.3C969.7,239.4 971.3,241.7 973.1,243.3C975.4,245.3 978.1,248.4 980.4,250.6C982.4,252.4 984.2,254.5 985.9,255.5C987.2,256.3 988.5,257.3 989.6,257.0C990.9,256.6 992.1,254.1 993.2,252.4C994.5,250.5 995.5,247.5 996.9,246.0C998.0,244.9 999.4,243.5 1000.5,243.7C1001.9,243.8 1003.1,246.2 1004.2,247.9C1005.5,249.7 1006.6,252.2 1007.9,254.3C1009.1,256.2 1010.5,259.7 1011.9,259.7C1013.3,259.8 1014.7,255.9 1016.1,254.3C1017.3,252.9 1018.5,251.4 1019.7,250.6C1020.7,250.0 1021.9,249.5 1022.9,249.7C1024.0,249.9 1025.1,251.3 1026.1,252.4C1027.4,253.7 1028.5,255.7 1029.8,257.0C1030.9,258.1 1032.1,260.0 1033.1,259.7C1034.6,259.4 1035.9,254.5 1037.1,251.5C1038.5,248.2 1039.4,243.8 1040.8,240.5C1041.9,237.8 1043.1,234.6 1044.4,233.2C1045.2,232.5 1046.0,231.9 1046.8,232.0C1047.8,232.0 1048.9,233.1 1049.9,234.1C1051.2,235.5 1052.2,237.6 1053.6,239.6C1055.2,242.1 1057.2,245.4 1059.0,247.9C1060.6,249.9 1062.2,251.7 1063.6,253.3Q1064.8,254.7 1066.7,257.0"/>
<path stroke="#ffffff" d="M71.2,390.0Q78.0,401.9 81.0,401.6C84.3,401.3 87.7,393.0 90.0,386.0C93.8,374.3 93.3,356.5 95.0,335.6C97.8,301.4 101.0,243.5 104.0,200.0C106.8,159.6 110.7,111.3 112.6,83.0C113.7,66.9 114.4,45.0 115.0,45.0C115.6,45.0 115.6,66.9 116.2,83.0C117.2,111.3 119.3,162.2 121.0,200.0C122.6,235.7 125.2,276.0 126.0,304.0C126.5,322.9 124.9,347.0 126.4,351.6C126.7,352.5 127.1,353.0 127.4,353.0C127.7,353.0 128.1,352.5 128.4,351.6C130.0,347.0 129.1,322.9 130.0,304.0C131.3,276.0 135.0,215.5 136.0,200.0C136.3,195.5 136.0,193.0 136.6,191.4C136.9,190.7 137.3,190.0 137.6,190.0C137.9,190.0 138.4,190.7 138.6,191.4C139.2,193.0 138.8,195.4 139.0,200.0C139.8,218.2 143.3,308.7 145.0,335.6C145.7,347.0 146.4,350.4 147.0,360.0C147.8,373.7 148.4,394.0 149.0,410.0C149.6,424.9 149.1,448.7 150.6,453.0C150.9,453.9 151.3,454.4 151.6,454.4C151.9,454.4 152.3,453.8 152.6,453.0C153.5,450.7 153.5,442.2 155.0,438.0C156.2,434.7 157.7,431.3 160.0,429.6C162.1,428.0 165.7,426.9 168.0,427.6C170.4,428.3 172.0,431.9 174.0,434.0C175.9,436.0 178.0,440.4 179.6,440.0C182.4,439.3 184.3,424.6 186.0,416.0C187.9,406.2 188.2,391.9 190.0,384.0C191.1,379.1 192.4,372.5 194.0,372.4C195.7,372.3 198.2,380.7 200.0,386.0C202.3,392.8 204.1,403.1 206.0,410.0C207.4,415.3 208.1,419.4 210.0,424.0C212.0,428.8 215.2,433.8 218.0,438.0C220.5,441.7 224.3,445.3 226.0,448.0C227.0,449.6 227.0,450.4 228.0,452.0C229.6,454.6 233.0,461.8 235.0,461.6C236.9,461.5 238.7,455.1 240.0,452.0C241.1,449.3 241.6,447.3 242.4,444.0C243.6,438.9 244.5,429.7 246.0,424.0C247.2,419.6 248.1,414.5 250.0,412.4C251.1,411.1 252.9,411.7 254.0,410.4C255.8,408.4 256.9,404.4 258.0,400.0C259.9,392.7 260.6,380.3 262.0,370.0C263.5,358.9 265.2,346.3 267.0,335.6C268.6,326.1 269.4,309.6 272.0,309.0C273.6,308.6 276.5,317.9 278.0,317.6C279.6,317.3 280.0,311.4 281.0,305.6C283.4,291.3 286.0,252.0 288.0,230.0C289.5,212.9 290.3,188.9 292.0,184.4C292.3,183.5 292.7,183.0 293.0,183.0C293.3,183.0 293.7,183.5 294.0,184.4C295.7,188.9 297.4,212.9 299.0,230.0C301.1,252.0 303.6,285.3 305.0,305.6C305.9,319.3 306.2,328.1 307.0,340.0C307.9,352.8 308.9,367.4 310.0,380.0C311.0,391.3 312.1,402.9 313.0,412.0C313.7,418.9 314.3,424.9 315.0,430.0C315.5,433.7 315.9,437.9 316.6,439.6C316.9,440.3 317.3,441.0 317.6,441.0C317.9,441.0 318.2,440.3 318.6,439.6C319.5,437.9 320.7,432.8 322.0,430.0C323.1,427.6 324.2,423.6 325.6,423.6C327.4,423.6 329.8,431.0 332.0,434.0C333.9,436.6 335.7,440.6 338.0,441.0C340.3,441.4 343.2,437.3 346.0,436.0C348.8,434.7 352.1,432.5 355.0,433.0C358.2,433.5 361.2,437.3 364.0,440.0C366.9,442.9 369.1,446.9 372.0,450.0C374.8,453.1 378.3,458.7 381.0,458.6C383.2,458.5 384.9,454.0 387.0,452.0C388.9,450.1 390.7,447.3 393.0,447.0C395.6,446.6 398.9,450.0 402.0,451.0C405.2,452.0 409.0,451.8 412.0,453.0C414.9,454.2 417.6,456.8 420.0,458.0C421.8,458.9 423.4,460.3 425.0,460.0C426.8,459.6 428.1,456.5 430.0,455.0C432.0,453.4 435.0,450.7 437.0,451.0C438.9,451.3 440.3,454.5 442.0,456.0C443.6,457.5 445.5,459.8 447.0,460.0C448.1,460.1 449.0,459.5 450.0,458.5C452.0,456.5 454.3,451.1 455.9,446.7C457.8,441.5 459.1,435.3 460.3,429.0C461.6,422.1 462.3,414.5 463.3,406.9C464.3,398.8 465.5,387.2 466.2,381.8C466.6,379.2 466.7,377.9 467.0,376.0C467.3,374.1 467.5,371.6 468.0,370.4C468.3,369.7 468.7,369.0 469.0,369.0C469.3,369.0 469.7,369.7 470.0,370.4C470.8,372.1 471.4,375.9 472.0,380.0C473.1,386.9 474.1,399.2 475.0,408.0C475.8,415.8 476.1,422.9 477.0,430.0C477.8,436.8 478.6,446.4 480.0,450.0C480.6,451.5 481.2,453.0 482.0,453.0C483.1,453.0 484.5,447.7 486.0,446.0C487.2,444.6 488.6,442.8 490.0,443.0C491.9,443.3 493.8,448.6 496.0,451.0C498.1,453.3 500.8,457.2 503.0,457.0C505.2,456.8 507.3,452.9 509.0,450.0C511.2,446.3 512.4,440.8 514.0,436.0C515.7,430.9 517.3,424.7 519.0,420.0C520.3,416.2 521.5,412.0 523.0,410.0C523.8,408.9 524.8,407.8 525.6,408.0C526.9,408.3 527.9,412.9 529.0,416.0C530.4,420.0 531.5,426.0 533.0,430.0C534.2,433.1 535.1,437.3 537.0,438.0C538.6,438.6 541.2,436.2 543.0,435.6C544.5,435.1 545.9,433.9 547.0,434.4C548.8,435.3 549.7,441.1 551.0,444.0C552.1,446.5 553.5,451.1 554.4,451.0C555.5,450.9 556.3,444.6 557.0,440.0C558.1,432.5 558.4,420.7 559.0,410.0C559.7,397.6 560.2,383.3 561.0,370.0C561.8,356.7 563.1,344.7 564.0,330.0C565.1,312.0 566.2,287.4 567.0,270.0C567.6,256.6 567.3,238.3 568.6,234.4C568.9,233.5 569.3,233.0 569.6,233.0C569.9,233.0 570.3,233.5 570.6,234.4C571.9,238.3 571.4,258.6 572.0,270.0C572.6,280.4 573.3,288.7 574.0,300.0C574.9,314.5 576.1,334.3 577.0,350.0C577.8,364.1 578.2,378.4 579.0,390.0C579.6,399.0 580.4,408.1 581.0,414.0C581.4,417.5 581.4,420.6 582.0,422.2C582.3,422.9 582.7,423.6 583.0,423.6C583.3,423.6 583.7,422.9 584.0,422.2C584.7,420.6 585.4,417.5 586.0,414.0C587.1,408.1 588.0,398.0 589.0,390.0C590.0,382.0 591.2,374.2 592.0,366.0C592.9,357.5 593.3,350.1 594.0,340.0C595.0,326.0 596.0,305.7 597.0,290.0C597.9,275.9 598.4,261.5 599.6,250.0C600.5,241.3 601.8,230.0 603.0,227.0C603.3,226.2 603.7,225.6 604.0,225.6C604.3,225.6 604.7,226.2 605.0,227.0C606.2,230.0 607.0,242.3 608.0,250.0C609.0,257.9 609.6,267.3 611.0,274.0C612.1,279.0 613.1,286.7 615.0,287.0C616.8,287.3 619.9,276.8 622.0,277.0C624.3,277.2 626.3,284.6 628.0,290.0C630.5,297.8 632.2,309.7 634.0,320.0C635.9,331.0 637.6,343.4 639.0,354.0C640.2,363.2 641.0,371.5 642.0,380.0C643.0,388.2 644.1,398.6 645.0,404.0C645.5,406.8 645.8,408.9 646.4,410.2C646.7,410.9 647.1,411.6 647.4,411.6C647.7,411.6 648.1,410.9 648.4,410.2C649.0,408.9 649.4,406.6 650.0,404.0C650.9,399.6 651.9,391.6 653.0,386.0C653.9,381.0 654.7,375.6 656.0,372.0C656.9,369.5 657.5,367.1 659.0,366.0C660.3,365.0 662.5,365.3 664.0,365.0C665.1,364.8 666.0,365.1 667.0,364.4C668.7,363.2 670.5,359.5 672.0,356.0C674.3,350.9 676.1,343.1 678.0,336.0C680.1,327.9 682.3,318.1 684.0,310.0C685.5,302.9 686.6,294.9 688.0,290.0C688.8,287.0 689.6,283.0 690.6,283.0C691.6,283.0 693.0,286.9 694.0,290.0C695.8,295.5 696.8,308.2 698.0,314.0C698.7,317.4 699.3,318.4 700.0,322.0C701.5,329.4 703.5,346.8 705.0,356.0C706.1,362.3 706.8,366.9 708.0,372.0C709.1,376.9 710.2,381.8 712.0,386.0C713.6,389.7 715.5,393.4 718.0,396.0C720.3,398.3 723.2,400.0 726.0,401.0C728.6,401.9 731.3,402.2 734.0,402.0C736.7,401.8 739.9,401.8 742.0,400.0C744.6,397.8 745.6,392.5 747.0,388.0C748.7,382.7 749.5,375.4 751.0,370.0C752.2,365.6 753.5,360.6 755.0,358.0C755.8,356.6 756.8,354.9 757.6,355.0C758.5,355.1 759.3,357.7 760.0,360.0C761.3,364.4 762.0,373.3 763.0,380.0C764.0,386.7 765.0,394.9 766.0,400.0C766.7,403.2 767.3,406.1 768.0,407.6C768.3,408.3 768.7,409.0 769.0,409.0C769.3,409.0 769.7,408.3 770.0,407.6C770.7,406.1 771.4,403.3 772.0,400.0C773.1,394.3 774.0,383.6 775.0,376.0C776.0,369.0 776.9,360.1 778.0,356.0C778.5,354.1 779.0,352.0 779.6,352.0C780.3,352.0 781.3,355.3 782.0,358.0C783.3,363.0 783.9,373.0 785.0,380.0C786.0,386.3 787.1,394.0 788.0,398.0C788.5,400.1 788.9,401.5 789.4,402.6C789.7,403.2 790.1,404.0 790.4,404.0C790.7,404.0 791.1,403.3 791.4,402.6C792.1,400.8 792.5,396.3 793.0,392.0C793.8,385.3 794.5,375.4 795.0,366.0C795.6,355.0 795.3,342.0 796.0,330.0C796.7,318.0 797.8,304.2 799.0,294.0C799.9,286.5 800.9,277.1 802.0,274.4C802.3,273.6 802.7,273.0 803.0,273.0C803.3,273.0 803.7,273.6 804.0,274.4C805.0,276.8 806.0,283.9 807.0,290.0C808.4,298.4 809.5,310.8 811.0,320.0C812.2,327.9 813.8,335.0 815.0,342.0C816.1,348.3 817.1,353.6 818.0,360.0C819.1,367.4 819.8,377.1 821.0,384.0C821.9,389.3 822.5,394.4 824.0,398.0C825.1,400.5 826.3,403.7 828.0,404.0C829.7,404.3 831.8,401.1 834.0,400.0C836.4,398.8 839.6,396.7 842.0,397.0C844.2,397.3 846.2,399.5 848.0,401.0C849.8,402.5 851.3,404.8 853.0,406.0C854.3,407.0 855.6,408.1 857.0,408.0C858.6,407.9 860.5,406.5 862.0,405.0C864.0,403.0 865.6,399.3 867.0,396.0C868.6,392.4 869.7,388.2 871.0,384.0C872.4,379.5 873.7,374.3 875.0,370.0C876.1,366.4 876.8,363.1 878.0,360.0C879.1,357.1 880.4,354.2 882.0,352.0C883.4,350.0 885.6,349.5 887.0,347.0C889.5,342.6 890.7,332.9 892.0,326.0C893.3,319.3 893.9,312.3 895.0,306.0C896.0,300.4 896.7,293.9 898.0,290.0C898.8,287.6 900.1,285.2 900.6,284.4C900.7,284.1 900.8,283.9 900.9,283.9C901.4,284.0 902.9,287.5 903.7,290.3C905.0,295.4 905.5,305.0 906.4,312.3C907.3,319.6 908.5,329.0 909.1,334.2C909.5,337.1 909.6,338.2 910.1,341.0C910.7,345.3 911.7,352.0 912.8,357.4C913.9,362.9 915.0,368.6 916.5,373.9C917.8,378.9 919.2,383.9 921.0,388.5C922.8,393.0 925.0,397.9 927.4,401.3C929.4,404.0 931.6,406.2 933.8,407.7C935.6,408.9 937.3,409.8 939.3,410.1C941.7,410.4 944.7,409.3 947.5,408.6C950.5,407.9 953.8,406.8 956.7,405.9C959.3,405.1 961.9,403.7 964.0,403.5C965.4,403.4 966.5,403.4 967.6,404.0C969.2,404.8 970.7,407.3 972.2,408.6C973.5,409.7 974.8,411.6 975.9,411.4C977.3,411.1 978.5,407.5 979.5,405.0C980.8,401.5 981.4,396.8 982.3,392.2C983.3,386.6 984.0,379.6 985.0,373.9C985.9,368.7 986.6,363.1 987.8,359.3C988.5,356.6 989.4,354.3 990.5,352.9C991.2,351.9 991.9,351.0 992.7,351.0C993.7,351.1 995.0,353.1 996.0,354.7C997.3,356.8 998.4,359.8 999.6,362.9C1001.1,366.7 1002.7,371.4 1004.2,375.7C1005.7,380.0 1006.7,385.4 1008.8,388.5C1010.3,390.8 1012.3,393.3 1014.3,393.6C1016.2,393.9 1018.7,391.6 1020.7,390.3C1022.6,389.0 1024.3,387.2 1026.1,385.8C1027.9,384.4 1030.1,381.9 1031.6,382.1C1033.1,382.3 1034.2,384.6 1035.3,386.7C1036.9,389.8 1037.6,395.6 1038.9,399.5C1040.1,402.8 1041.3,406.4 1042.6,408.6C1043.5,410.0 1044.4,411.8 1045.3,411.7C1046.6,411.6 1047.8,407.4 1049.0,405.0C1050.3,402.2 1051.3,398.0 1052.7,395.8C1053.5,394.4 1054.3,392.8 1055.4,392.7C1056.7,392.6 1058.6,395.2 1060.0,396.7C1061.4,398.3 1062.4,400.5 1063.6,402.2Q1064.7,403.8 1066.7,406.8"/>
<path stroke="#f5ec55" d="M71.2,411.0Q78.7,411.4 82.2,410.0C86.1,408.5 90.3,401.1 93.0,401.6C95.3,402.0 96.1,407.1 98.0,410.0C100.2,413.3 102.7,420.1 105.6,420.4C108.6,420.7 111.9,413.1 115.6,411.0C119.0,409.1 122.9,407.8 126.6,408.0C130.4,408.2 134.0,411.9 137.8,412.4C141.4,412.9 145.2,412.0 148.8,411.0C152.6,409.9 156.5,405.4 160.0,406.0C164.0,406.7 167.0,414.7 171.0,417.0C174.4,419.0 178.5,418.8 182.0,420.0C185.4,421.2 189.2,424.7 192.0,424.0C194.8,423.3 196.9,418.8 199.0,416.0C201.1,413.2 202.4,407.2 204.4,407.0C206.1,406.8 208.1,411.3 210.0,413.0C211.7,414.5 213.1,416.6 215.2,417.0C217.9,417.5 221.6,413.9 225.0,414.4C229.1,415.0 233.9,422.0 238.0,422.0C241.7,422.0 245.2,418.5 248.6,416.0C252.4,413.3 255.9,409.3 259.6,406.0C263.4,402.6 267.5,395.8 271.0,396.0C274.3,396.2 276.7,403.6 280.0,406.0C282.8,408.0 286.5,410.9 289.0,410.0C292.1,408.9 293.6,401.0 296.0,396.0C298.6,390.5 301.5,378.4 304.0,378.4C306.2,378.4 308.0,387.2 310.0,392.0C312.3,397.3 313.9,408.0 317.0,409.0C319.3,409.7 322.1,404.0 325.0,404.0C328.4,403.9 332.2,410.1 336.0,410.4C339.8,410.7 344.1,407.8 348.0,406.0C352.1,404.2 356.3,400.2 360.0,399.6C362.9,399.1 365.2,400.7 368.0,401.0C371.1,401.4 374.7,400.8 378.0,401.6C381.4,402.4 385.1,403.9 388.0,406.0C391.1,408.3 393.3,412.4 396.0,415.0C398.3,417.3 400.9,421.4 403.0,421.0C405.7,420.5 407.4,412.0 410.0,408.0C412.4,404.2 415.0,398.4 418.0,397.6C420.4,397.0 423.2,400.0 426.0,401.0C428.9,402.1 432.2,404.6 435.0,404.0C438.2,403.3 441.0,398.3 444.0,396.0C446.7,394.0 449.1,391.8 452.0,391.0C455.0,390.1 458.9,390.3 462.0,391.0C464.9,391.7 467.5,392.8 470.0,395.0C473.4,398.0 476.1,409.1 479.0,409.0C482.1,408.9 486.2,396.3 488.0,392.0C489.1,389.5 489.0,388.1 490.0,386.0C491.2,383.5 493.1,379.9 495.0,378.0C496.5,376.5 498.4,374.6 500.0,375.0C502.2,375.5 504.3,380.5 506.0,384.0C508.0,388.0 509.1,394.6 511.0,398.0C512.2,400.2 513.6,403.0 515.0,403.0C516.6,403.0 518.0,398.1 520.0,396.0C522.0,393.8 524.4,390.3 527.0,390.0C529.7,389.7 532.9,393.1 536.0,395.0C539.5,397.1 543.5,402.0 547.0,402.0C550.2,402.0 552.9,397.5 556.0,396.0C558.9,394.6 562.1,392.5 565.0,393.0C568.2,393.5 571.2,397.3 574.0,400.0C576.9,402.9 579.2,407.2 582.0,410.0C584.5,412.5 587.3,416.2 590.0,416.4C592.6,416.6 595.4,413.7 598.0,412.0C600.7,410.2 603.1,407.5 606.0,406.0C608.8,404.5 612.1,403.7 615.0,403.0C617.7,402.4 620.6,403.1 623.0,402.0C625.6,400.8 627.6,397.7 630.0,396.0C632.3,394.4 634.7,391.8 637.0,392.0C639.4,392.2 641.9,395.7 644.0,398.0C646.2,400.4 647.7,403.5 650.0,406.0C652.4,408.5 655.3,412.9 658.0,413.0C660.6,413.1 663.3,408.7 666.0,407.0C668.6,405.4 671.3,404.0 674.0,403.0C676.6,402.0 679.5,401.7 682.0,401.0C684.2,400.4 686.2,398.4 688.0,399.0C690.3,399.8 692.3,404.8 694.0,408.0C695.7,411.2 696.8,415.4 698.0,418.0C698.7,419.7 699.2,421.2 700.0,422.0C700.6,422.6 701.4,423.3 702.0,423.0C703.6,422.3 704.6,414.0 706.0,410.0C707.3,406.4 708.5,402.5 710.0,400.0C711.1,398.2 712.4,395.9 713.6,396.0C715.0,396.1 716.4,399.9 718.0,402.0C719.8,404.5 721.9,409.9 724.0,410.0C725.9,410.1 728.0,405.9 730.0,404.0C732.0,402.2 734.2,398.9 736.0,399.0C737.5,399.1 738.8,402.2 740.0,403.0C740.8,403.6 741.7,404.3 742.4,404.0C743.6,403.4 744.2,399.5 745.0,396.0C746.3,389.9 747.0,380.1 748.0,370.0C749.4,356.0 750.8,335.7 752.0,320.0C753.1,305.9 754.1,291.1 755.0,280.0C755.6,272.0 755.6,262.2 756.6,259.4C756.9,258.6 757.3,258.0 757.6,258.0C757.9,258.0 758.3,258.6 758.6,259.4C759.6,262.2 759.4,272.0 760.0,280.0C760.8,291.1 761.9,305.9 763.0,320.0C764.2,335.7 765.9,356.0 767.0,370.0C767.8,380.1 768.2,388.7 769.0,396.0C769.6,401.4 769.7,406.9 771.0,410.0C771.8,411.9 772.7,413.8 774.0,414.0C775.6,414.3 777.8,411.3 780.0,410.0C782.4,408.6 785.3,407.0 788.0,406.0C790.6,405.0 793.9,405.2 796.0,404.0C797.7,403.0 798.9,402.0 800.0,400.0C801.9,396.6 802.7,389.6 804.0,384.0C805.4,377.7 806.7,369.8 808.0,364.0C809.0,359.5 809.6,354.6 811.0,352.0C811.8,350.5 813.0,348.9 814.0,349.0C815.4,349.2 816.5,353.5 818.0,356.0C819.8,359.0 822.1,362.9 824.0,366.0C825.7,368.8 827.4,372.0 829.0,374.0C830.0,375.3 831.1,377.2 832.0,377.0C833.2,376.8 834.1,373.0 835.0,370.0C836.4,365.1 837.2,356.7 838.0,350.0C838.8,343.3 839.2,336.7 840.0,330.0C840.8,323.3 842.1,315.3 843.0,310.0C843.6,306.5 843.9,303.0 844.6,301.4C844.9,300.7 845.3,300.0 845.6,300.0C845.9,300.0 846.3,300.6 846.6,301.4C847.4,303.5 847.7,309.0 848.4,314.0C849.4,321.5 851.0,334.3 852.0,342.0C852.7,347.5 853.3,351.5 854.0,356.0C854.6,360.2 855.1,365.1 856.0,368.0C856.6,369.7 857.3,372.0 858.0,372.0C859.0,371.9 860.1,367.0 861.0,364.0C862.1,360.4 862.8,355.4 864.0,352.0C864.9,349.3 865.9,345.1 867.0,345.0C867.9,344.9 869.1,348.0 870.0,350.0C871.2,352.7 871.9,357.1 873.0,360.0C873.9,362.3 875.1,366.0 876.0,366.0C877.1,365.9 878.2,361.2 879.0,358.0C880.1,353.6 880.3,348.3 881.0,342.0C882.0,333.2 883.0,321.0 884.0,310.0C885.0,298.4 886.1,284.0 887.0,274.0C887.6,266.9 887.6,258.4 888.6,255.8C888.9,255.0 889.3,254.4 889.6,254.4C889.9,254.4 890.3,255.0 890.6,255.8C891.6,258.4 891.8,266.9 892.4,274.0C893.3,284.0 894.0,298.4 895.0,310.0C895.9,321.0 896.9,334.0 898.0,342.0C898.6,346.9 899.4,349.7 900.0,353.8C900.6,358.0 900.9,364.9 901.7,367.0C902.0,367.8 902.4,368.4 902.7,368.4C903.1,368.4 903.4,367.7 903.7,367.0C904.4,365.7 904.8,363.3 905.5,361.1C906.5,358.0 907.5,353.1 909.1,350.1C910.4,347.7 912.1,344.5 913.7,344.3C915.1,344.0 916.6,346.5 918.3,347.4C920.0,348.3 921.8,349.6 923.8,349.7C926.0,349.9 928.9,347.6 931.1,347.9C933.1,348.2 934.7,349.6 936.6,351.0C938.9,352.8 941.4,355.9 943.9,358.3C946.3,360.8 948.8,363.9 951.2,365.6C953.0,367.0 954.8,368.4 956.7,368.4C958.5,368.4 960.4,366.5 962.2,365.6C963.9,364.8 965.5,363.2 967.3,363.3C969.2,363.3 971.2,365.5 973.1,366.6C975.0,367.5 976.8,369.5 978.6,369.3C980.5,369.1 982.3,366.4 984.1,364.7C986.0,363.0 987.6,360.5 989.6,359.3C991.3,358.2 993.3,357.8 995.1,357.4C996.6,357.1 998.0,356.9 999.6,357.1C1001.6,357.3 1003.8,358.5 1006.0,359.3C1008.4,360.1 1010.8,361.1 1013.3,362.0C1016.2,363.0 1019.9,365.2 1022.5,365.1C1024.6,365.0 1026.0,363.4 1028.0,362.5C1030.2,361.5 1032.9,360.0 1035.3,359.3C1037.4,358.6 1039.8,357.6 1041.7,358.0C1043.4,358.3 1044.8,359.7 1046.3,361.1C1047.9,362.7 1049.3,365.6 1050.8,367.5C1052.2,369.1 1053.6,371.6 1055.0,371.7C1056.4,371.7 1057.9,369.9 1059.0,368.4C1060.5,366.5 1061.6,363.5 1062.7,361.1C1063.8,358.7 1064.7,355.8 1065.4,353.8Q1066.0,352.3 1066.7,350.1"/>
</g>
<rect x="321" y="636.6" width="13" height="4" fill="#8df0cf"/>
<text x="342" y="642.8" font-size="12.8">Across</text>
<rect x="399" y="636.6" width="13" height="4" fill="#ea8a4e"/>
<text x="421" y="642.8" font-size="12.8">Cbridge</text>
<rect x="483" y="636.6" width="13" height="4" fill="#a695ea"/>
<text x="505" y="642.8" font-size="12.8">CCTP</text>
<rect x="557" y="636.6" width="13" height="4" fill="#b45ad8"/>
<text x="579" y="642.8" font-size="12.8">Hop</text>
<rect x="619" y="636.6" width="13" height="4" fill="#ffffff"/>
<text x="641" y="642.8" font-size="12.8">Stargate</text>
<rect x="707" y="636.6" width="13" height="4" fill="#f5ec55"/>
<text x="729" y="642.8" font-size="12.8">Synapse</text>
</svg></body></html>
